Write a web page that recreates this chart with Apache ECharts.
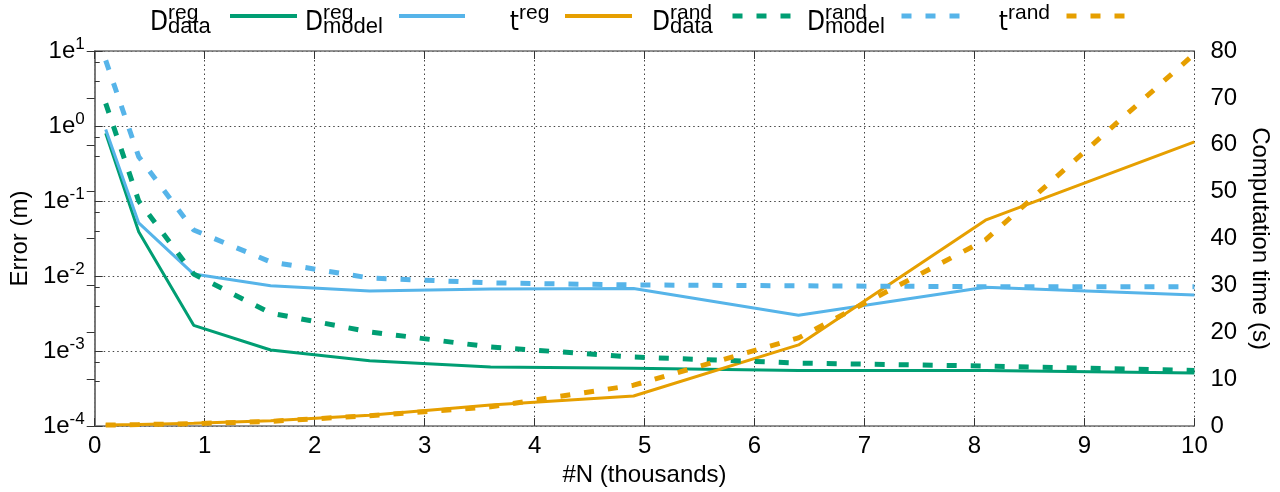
<!DOCTYPE html>
<html><head><meta charset="utf-8">
<script src="https://cdn.jsdelivr.net/npm/echarts@6/dist/echarts.min.js"></script>
<style>html,body{margin:0;padding:0;background:#fff}#c{width:1280px;height:492px}</style>
</head><body><div id="c"></div>
<script>
// ---- data (x in thousands of N) ----
const N_thousands   = [0.1, 0.4, 0.9, 1.6, 2.5, 3.6, 4.9, 6.4, 8.1, 10.0];
const D_data_reg    = [0.8, 0.039, 0.0022, 0.00103, 0.00074, 0.00061, 0.00059, 0.00055, 0.00055, 0.00051];
const D_model_reg   = [0.9, 0.051, 0.0106, 0.0074, 0.0063, 0.0067, 0.0068, 0.0030, 0.0071, 0.0056];
const t_reg         = [0.2, 0.3, 0.6, 1.1, 2.3, 4.5, 6.4, 17.3, 43.9, 60.6];
const D_data_rand   = [2.0, 0.10, 0.0106, 0.0032, 0.0018, 0.00113, 0.00083, 0.00069, 0.00063, 0.00055];
const D_model_rand  = [7.5, 0.39, 0.041, 0.0154, 0.0094, 0.0081, 0.0076, 0.0074, 0.0072, 0.0072];
const t_rand        = [0.2, 0.3, 0.5, 1.0, 2.2, 4.1, 8.7, 18.8, 39.7, 79.4];

const seriesNames   = ['D_data_reg', 'D_model_reg', 't_reg', 'D_data_rand', 'D_model_rand', 't_rand'];
const legendBase    = ['D', 'D', 't', 'D', 'D', 't'];
const legendSup     = ['reg', 'reg', 'reg', 'rand', 'rand', 'rand'];
const legendSub     = ['data', 'model', '', 'data', 'model', ''];
const xAxisTitle    = '#N (thousands)';
const yLeftTitle    = 'Error (m)';
const yRightTitle   = 'Computation time (s)';

// ---- styling / layout ----
const GREEN = '#009e73', BLUE = '#56b4e9', ORANGE = '#e69f00';
const FRAME = '#707070', GRID = '#444';
const FONT = "'Liberation Sans', Arial, sans-serif";
const NARROW = "'Liberation Sans Narrow', 'DejaVu Sans Condensed', sans-serif";
const DASH = [10, 14];

const values = [D_data_reg, D_model_reg, t_reg, D_data_rand, D_model_rand, t_rand];
const colors = [GREEN, BLUE, ORANGE, GREEN, BLUE, ORANGE];
const dashed = [false, false, false, true, true, true];
const onRight = [false, false, true, false, false, true];

const series = seriesNames.map((name, i) => ({
  name, type: 'line',
  yAxisIndex: onRight[i] ? 1 : 0,
  symbol: 'none', showSymbol: false, silent: true,
  lineStyle: { color: colors[i], width: dashed[i] ? 5 : 3, type: dashed[i] ? DASH : 'solid', cap: 'butt' },
  itemStyle: { color: colors[i] },
  data: N_thousands.map((x, k) => [x, values[i][k]])
}));

// legend line samples (start/end px) and label anchor (sup/sub start)
const legLine = [[228, 295], [397, 463], [563, 630], [730, 793], [899, 960], [1064, 1128]];
const legText = [168, 323, 519, 670, 825, 1008];

const legends = seriesNames.map((name, i) => ({
  data: [name], left: legLine[i][0], top: 11, padding: 0, itemGap: 0,
  itemWidth: legLine[i][1] - legLine[i][0], itemHeight: 10,
  selectedMode: false, formatter: () => '', textStyle: { fontSize: 1 },
  lineStyle: { width: dashed[i] ? 5 : 4, type: dashed[i] ? DASH : 'solid', cap: 'butt' },
  itemStyle: { opacity: 0 }
}));

const graphics = [];
seriesNames.forEach((name, i) => {
  const x = legText[i];
  graphics.push({ type: 'text', left: null, x: x, y: 23, style: { text: legendBase[i], font: '26px ' + NARROW, fill: '#000', align: 'right', verticalAlign: 'middle' } });
  graphics.push({ type: 'text', x: x, y: 13, style: { text: legendSup[i], font: '21px ' + FONT, fill: '#000', align: 'left', verticalAlign: 'middle' } });
  if (legendSub[i]) graphics.push({ type: 'text', x: x, y: 26.5, style: { text: legendSub[i], font: '22px ' + FONT, fill: '#000', align: 'left', verticalAlign: 'middle' } });
});

const chart = echarts.init(document.getElementById('c'), null, { renderer: 'canvas' });
chart.setOption({
  animation: false,
  backgroundColor: '#fff',
  textStyle: { fontFamily: FONT },
  legend: legends,
  graphic: graphics,
  grid: { left: 92.5, right: 84, top: 51, bottom: 66, containLabel: false },
  xAxis: [{
    type: 'value', min: 0, max: 10, interval: 1, position: 'bottom',
    name: xAxisTitle, nameLocation: 'middle', nameGap: 36,
    nameTextStyle: { fontSize: 24, color: '#000', fontFamily: FONT },
    axisLine: { show: true, lineStyle: { color: FRAME, width: 1.5 } },
    axisTick: { show: true, inside: true, length: 8, lineStyle: { color: '#333' } },
    axisLabel: { fontSize: 24, color: '#000', margin: 8, fontFamily: FONT },
    splitLine: { show: true, lineStyle: { color: GRID, type: [1.5, 3], width: 1 } }
  }, {
    type: 'value', min: 0, max: 10, interval: 1, position: 'top',
    axisLine: { show: true, onZero: false, lineStyle: { color: FRAME, width: 1.5 } },
    axisTick: { show: true, inside: true, length: 8, lineStyle: { color: '#333' } },
    axisLabel: { show: false }, splitLine: { show: false }
  }],
  yAxis: [{
    type: 'log', logBase: 10, min: 1e-4, max: 10, splitNumber: 5, position: 'left',
    name: yLeftTitle, nameLocation: 'middle', nameGap: 58,
    nameTextStyle: { fontSize: 24, color: '#000', fontFamily: FONT },
    axisLine: { show: true, lineStyle: { color: FRAME, width: 1.5 } },
    axisTick: { show: true, inside: true, length: 8, lineStyle: { color: '#333' } },
    minorTick: { show: true, splitNumber: 3, length: 5, lineStyle: { color: '#333' } },
    axisLabel: {
      margin: 10, color: '#000',
      formatter: v => '{b|1e}{s|' + Math.round(Math.log10(v)) + '}',
      rich: {
        b: { fontSize: 24, fontFamily: FONT, color: '#000', lineHeight: 24 },
        s: { fontSize: 17, fontFamily: FONT, color: '#000', lineHeight: 17, padding: [0, 0, 14, 0] }
      }
    },
    splitLine: { show: true, lineStyle: { color: GRID, type: [1.5, 3], width: 1 } }
  }, {
    type: 'value', min: 0, max: 80, interval: 10, position: 'right',
    name: yRightTitle, nameLocation: 'middle', nameGap: 47, nameRotate: -90,
    nameTextStyle: { fontSize: 24, color: '#000', fontFamily: FONT },
    axisLine: { show: true, lineStyle: { color: FRAME, width: 1.5 } },
    axisTick: { show: true, inside: true, length: 8, lineStyle: { color: '#333' } },
    axisLabel: { fontSize: 24, color: '#000', margin: 16, fontFamily: FONT },
    splitLine: { show: false }
  }],
  series
});
</script>
</body></html>
